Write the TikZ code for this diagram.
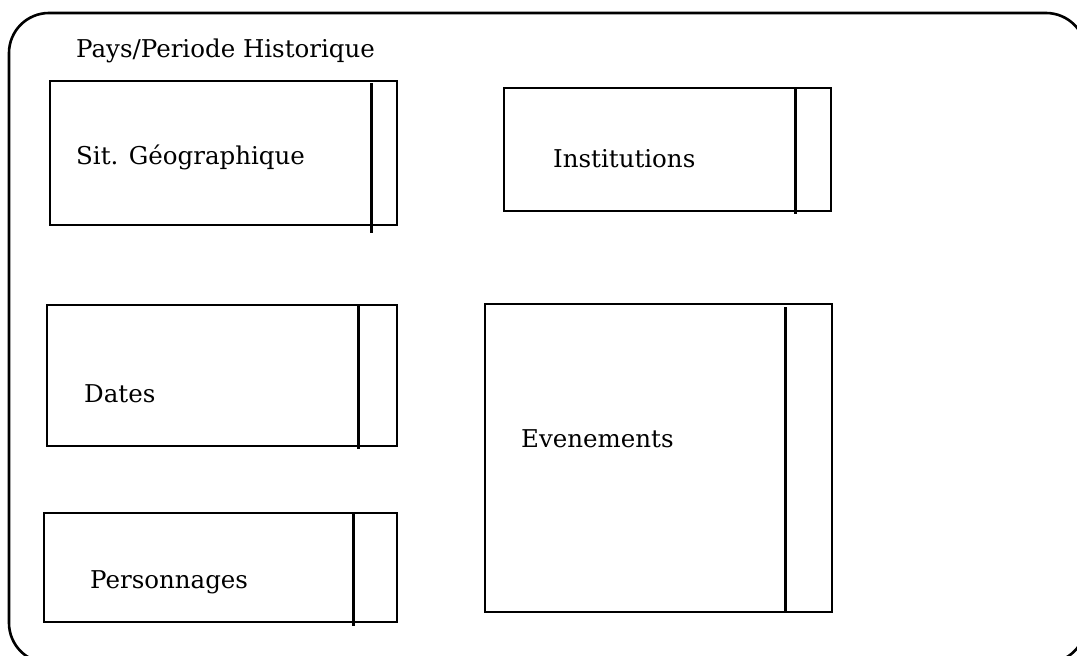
\documentclass[tikz,border=0pt]{standalone}
\usepackage{fontspec}
\setmainfont{DejaVu Serif}
\usetikzlibrary{calc, positioning}

\tikzset{
  panel/.style={draw, line width=2.4pt, anchor=north west, inner sep=0pt},
  divider/.style={line width=2.4pt},
  caption/.style={anchor=base west, inner sep=0pt, font=\fontsize{24.5}{29}\selectfont}
}

\begin{document}
\begin{tikzpicture}[x=1pt, y=1pt]
\useasboundingbox (0,0) rectangle (1077,-656);
\clip (0,0) rectangle (1077,-656);

% Outer frame
\draw[line width=2.6pt, rounded corners=40pt] (9,-13) rectangle (1086,-663);
\node[caption] (title) at (76,-57) {Pays/Periode Historique};

% Boxes
\node[panel, minimum width=347pt, minimum height=144pt] (geo) at (49,-80) {};
\node[panel, minimum width=327pt, minimum height=123pt] (inst) at (503,-87) {};
\node[panel, minimum width=350pt, minimum height=141pt] (dates) at (46,-304) {};
\node[panel, minimum width=353pt, minimum height=109pt] (pers) at (43,-512) {};
\node[panel, minimum width=347pt, minimum height=308pt] (even) at (484,-303) {};

% Dividers
\draw[divider] ($(geo.north east)+(-27,-3)$) -- ($(geo.south east)+(-27,-7)$);
\draw[divider] ($(inst.north east)+(-37,0)$) -- ($(inst.south east)+(-37,-2)$);
\draw[divider] ($(dates.north east)+(-40,0)$) -- ($(dates.south east)+(-40,-2)$);
\draw[divider] ($(pers.north east)+(-45,0)$) -- ($(pers.south east)+(-45,-3)$);
\draw[divider] ($(even.north east)+(-48,-4)$) -- ($(even.south east)+(-48,0)$);

% Labels
\node[caption] (geotxt) at (76,-164) {Sit. Géographique};
\node[caption] (insttxt) at (553,-167) {Institutions};
\node[caption] (datestxt) at (84,-402) {Dates};
\node[caption] (eventxt) at (521,-447) {Evenements};
\node[caption] (perstxt) at (90,-588) {Personnages};
\end{tikzpicture}
\end{document}
